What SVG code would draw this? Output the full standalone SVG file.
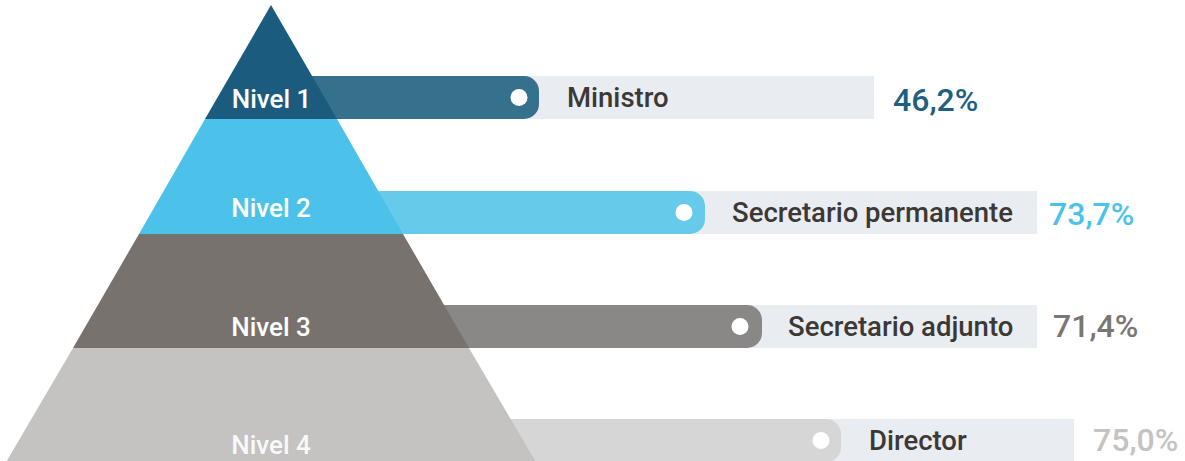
<svg xmlns="http://www.w3.org/2000/svg" width="1185" height="461" viewBox="0 0 1185 461">
<style>
.track{fill:#e9ecf1}
.dot{fill:#ffffff}
.lbl{font-family:Roboto,"Liberation Sans",Arial,sans-serif;font-weight:500;font-size:27.5px;fill:#3b3835}
.lvl{font-family:Roboto,"Liberation Sans",Arial,sans-serif;font-weight:500;font-size:26px;fill:#ffffff;text-anchor:middle}
.pct{font-family:Roboto,"Liberation Sans",Arial,sans-serif;font-weight:500;font-size:32px}
</style>
<rect width="1185" height="461" fill="#ffffff"/>
<g id="connectors">
<g id="bar1">
<rect class="track" x="500" y="76" width="374" height="43"/>
<path d="M271,76 H524 A15,15 0 0 1 539,91 V104 A15,15 0 0 1 524,119 H271 Z" fill="#35708c"/>
<circle class="dot" cx="519" cy="97.5" r="8.5"/>
</g>
<g id="bar2">
<rect class="track" x="650" y="191" width="387" height="43"/>
<path d="M271,191 H690 A15,15 0 0 1 705,206 V219 A15,15 0 0 1 690,234 H271 Z" fill="#66caeb"/>
<circle class="dot" cx="684" cy="212.5" r="8.5"/>
</g>
<g id="bar3">
<rect class="track" x="700" y="305" width="337" height="43"/>
<path d="M271,305 H747 A15,15 0 0 1 762,320 V333 A15,15 0 0 1 747,348 H271 Z" fill="#8a8886"/>
<circle class="dot" cx="740" cy="326.5" r="8.5"/>
</g>
<g id="bar4">
<rect class="track" x="780" y="419" width="294" height="43"/>
<path d="M271,419 H826 A15,15 0 0 1 841,434 V447 A15,15 0 0 1 826,462 H271 Z" fill="#d6d6d6"/>
<circle class="dot" cx="821" cy="440.5" r="8.5"/>
</g>
</g>
<g id="level1">
<polygon points="271,5 337,119 205,119" fill="#1b5c7e"/>
<text class="lvl" x="271.5" y="108">Nivel 1</text>
</g>
<g id="level2">
<polygon points="205,119 337,119 403,234 139,234" fill="#4cc2ea"/>
<text class="lvl" x="271" y="217">Nivel 2</text>
</g>
<g id="level3">
<polygon points="139,234 403,234 469,348 73,348" fill="#77726e"/>
<text class="lvl" x="271" y="336">Nivel 3</text>
</g>
<g id="level4">
<polygon points="73,348 469,348 537,464 5,464" fill="#c4c3c1"/>
<text class="lvl" x="271" y="454" fill-opacity="0.92">Nivel 4</text>
</g>
<g id="labels">
<text class="lbl" x="567" y="107">Ministro</text>
<text class="lbl" x="732" y="222">Secretario permanente</text>
<text class="lbl" x="788" y="336">Secretario adjunto</text>
<text class="lbl" x="869" y="450">Director</text>
</g>
<g id="values">
<text class="pct" x="893" y="111" fill="#1f5f80">46,2%</text>
<text class="pct" x="1049" y="225" fill="#4cc2ea">73,7%</text>
<text class="pct" x="1053" y="337" fill="#7a7673">71,4%</text>
<text class="pct" x="1093" y="451" fill="#c4c3c1">75,0%</text>
</g>
</svg>
